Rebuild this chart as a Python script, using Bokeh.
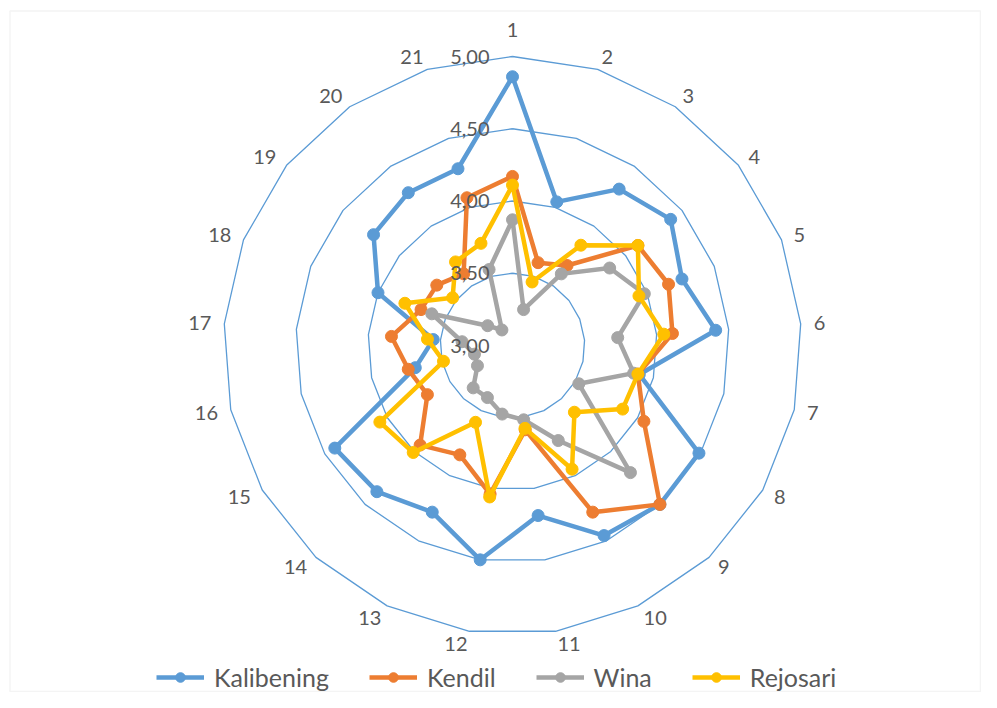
import numpy as np
from bokeh.plotting import figure
from bokeh.models import ColumnDataSource, Legend, LegendItem, BoxAnnotation
from bokeh.core.properties import value
from bokeh.embed import file_html
from bokeh.resources import INLINE

categories = [str(i) for i in range(1, 22)]
kalibening = [4.86, 4.04, 4.31, 4.40, 4.26, 4.41, 3.90, 4.49, 4.50, 4.46, 4.19,
              4.50, 4.28, 4.38, 4.42, 3.69, 3.55, 4.00, 4.23, 4.28, 4.28]
kendil = [4.17, 3.60, 3.67, 4.11, 4.16, 4.11, 3.89, 4.05, 4.50, 4.28, 3.59,
          4.04, 3.84, 3.94, 3.68, 3.74, 3.84, 3.68, 3.67, 3.60, 4.07]
wina = [3.87, 3.26, 3.60, 3.86, 3.98, 3.73, 3.86, 3.53, 4.20, 3.73, 3.52,
        3.48, 3.40, 3.40, 3.28, 3.27, 3.35, 3.60, 3.22, 3.13, 3.55]
rejosari = [4.11, 3.46, 3.84, 4.11, 3.94, 4.05, 3.89, 3.88, 3.63, 3.95, 3.58,
            4.06, 3.59, 4.01, 4.06, 3.49, 3.59, 3.80, 3.53, 3.70, 3.74]
series_names = ["Kalibening", "Kendil", "Wina", "Rejosari"]
series_colors = ["#5B9BD5", "#ED7D31", "#A5A5A5", "#FFC000"]
ring_levels = [3.0, 3.5, 4.0, 4.5, 5.0]
ring_labels = ["3,00", "3,50", "4,00", "4,50", "5,00"]

R_MIN = 3.0
PX = 144.5  # pixels per data unit
n = len(categories)
theta = np.arange(n) * 2 * np.pi / n


def polar(vals):
    r = np.asarray(vals, dtype=float) - R_MIN
    return r * np.sin(theta), r * np.cos(theta)


W, H = 981, 692
cx, cy = 512.0, 345.0
p = figure(width=W, height=H,
           x_range=(-cx / PX, (W - cx) / PX),
           y_range=(-(H - cy) / PX, cy / PX),
           output_backend="svg", toolbar_location=None, min_border=0)
p.axis.visible = False
p.grid.visible = False
p.outline_line_color = None
p.background_fill_color = "white"

# chart-area border
p.add_layout(BoxAnnotation(left=(9.5 - cx) / PX, right=(W - 1 - cx) / PX,
                           top=(cy - 10.5) / PX, bottom=-(H - 1 - cy) / PX,
                           fill_alpha=0, line_color="#D9D9D9", line_width=1.5,
                           level="underlay"))

# polygon rings
for lv in ring_levels[1:]:
    x, y = polar([lv] * n)
    p.line(list(x) + [x[0]], list(y) + [y[0]], line_color="#5B9BD5", line_width=1.3)

# series
items = []
for name, vals, col in zip(series_names, [kalibening, kendil, wina, rejosari], series_colors):
    x, y = polar(vals)
    l = p.line(list(x) + [x[0]], list(y) + [y[0]], line_color=col, line_width=4.5,
               line_join="round")
    s = p.scatter(x, y, size=12, fill_color=col, line_color=col)
    items.append(LegendItem(label=name, renderers=[l, s]))

# category labels: anchored just outside the outer ring, aligned away from centre
lab_r = 302.0 / PX
sin_t, cos_t = np.sin(theta), np.cos(theta)
groups = {"left": sin_t > 1e-6, "right": sin_t < -1e-6, "center": np.abs(sin_t) <= 1e-6}
for align, mask in groups.items():
    idx = np.where(mask)[0]
    ys = lab_r * cos_t[idx] + (14.0 / PX if align == "center" else 0.0)
    src = ColumnDataSource(dict(x=lab_r * sin_t[idx], y=ys,
                                t=[categories[i] for i in idx]))
    p.text("x", "y", text="t", source=src, text_align=align, text_baseline="middle",
           text_font=value("Lato"), text_font_size="20px", text_color="#595959")

# radial value labels
val_src = ColumnDataSource(dict(x=[-23.0 / PX] * len(ring_levels),
                                y=[lv - R_MIN for lv in ring_levels], t=ring_labels))
p.text("x", "y", text="t", source=val_src, text_align="right", text_baseline="middle",
       text_font=value("Lato"), text_font_size="20px", text_color="#595959")

legend = Legend(items=items, orientation="horizontal", location=(156, 0),
                glyph_width=48, glyph_height=24, label_standoff=10, spacing=40,
                padding=0, margin=0, border_line_color=None, background_fill_alpha=0,
                label_text_font="Lato", label_text_font_size="25px",
                label_text_color="#595959")
p.add_layout(legend)

open("out.html", "w").write(file_html(p, INLINE))
